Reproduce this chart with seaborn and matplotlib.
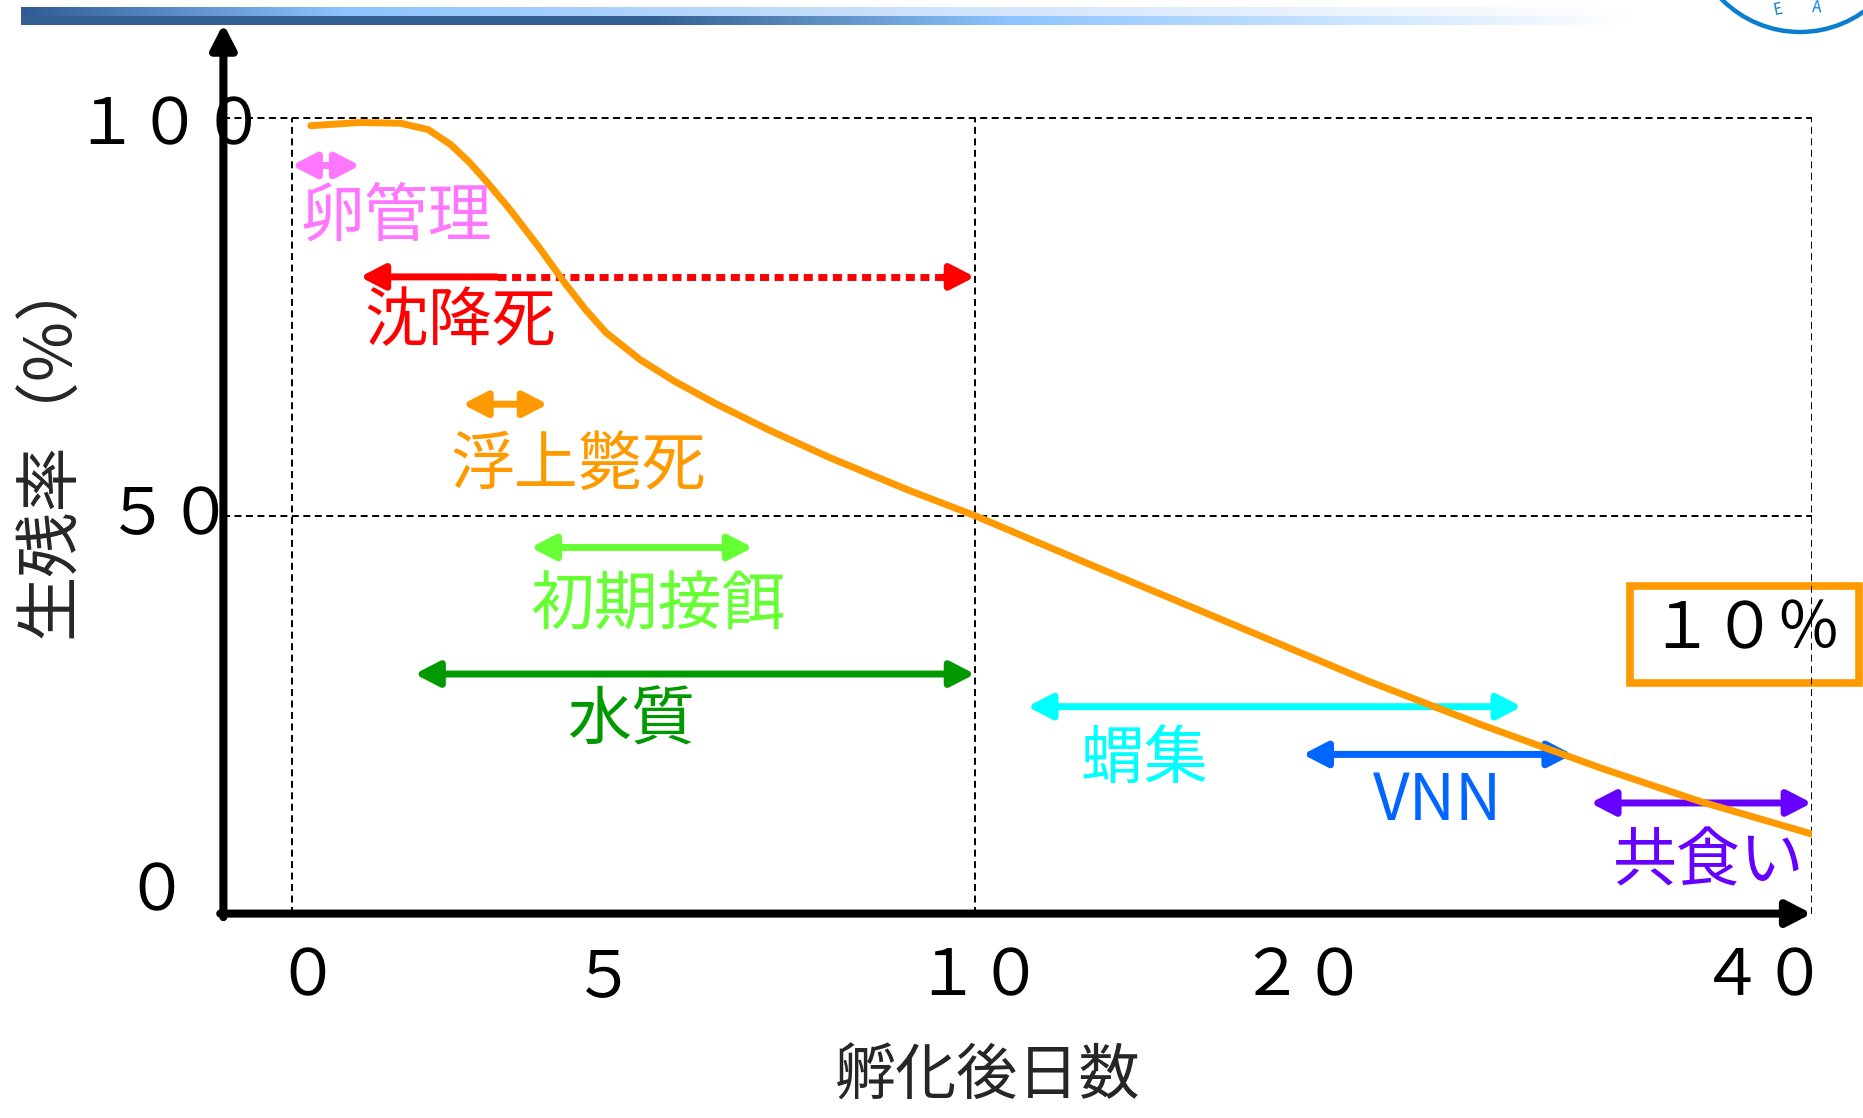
import numpy as np
import matplotlib
matplotlib.use("Agg")
import matplotlib.pyplot as plt
import seaborn as sns
from matplotlib.patches import FancyArrowPatch, Rectangle, Circle
from matplotlib.transforms import ScaledTranslation

# ---- data -------------------------------------------------------------
# survival curve: days after hatching vs survival rate (%)
days = [0.28, 1.0, 1.6, 2.0, 2.33, 2.6, 2.85, 3.2, 3.63, 4.0, 4.3, 4.6, 5.1,
        5.6, 6.2, 7.0, 7.9, 9.0, 10.0, 13.2, 16.85, 22.5, 26.95, 31.7, 35.6, 40.0]
survival = [99.0, 99.4, 99.3, 98.5, 96.6, 94.4, 92.0, 88.4, 83.6, 79.2, 75.9,
            73.0, 69.6, 66.9, 64.1, 60.7, 57.2, 53.3, 50.0, 44.4, 38.1, 29.3,
            23.8, 18.3, 14.1, 10.0]

# loss factors and the period (days) during which each one matters
stages = ["卵管理", "沈降死", "浮上斃死", "初期接餌", "水質", "蝟集", "VNN", "共食い"]
stage_start = [0.0, 1.0, 2.5, 3.5, 1.8, 11.6, 20.0, 31.3]
stage_end = [1.0, 10.0, 3.75, 6.75, 10.0, 28.6, 30.6, 40.0]
stage_level = [94.0, 80.0, 64.0, 46.0, 30.1, 26.0, 20.0, 13.9]
sinking_main_until = 3.0          # 沈降死: main period, then tailing off

stage_colors = ["#FF77FF", "#FF0000", "#FF9900", "#66FF33",
                "#009900", "#00FFFF", "#0066FF", "#6600FF"]

x_ticks = [0, 5, 10, 20, 40]
y_ticks = [0, 50, 100]

# ---- style ------------------------------------------------------------
sns.set_theme(style="white")
plt.rcParams["font.family"] = ["Noto Sans CJK JP", "DejaVu Sans"]

FW = str.maketrans("0123456789", "０１２３４５６７８９")
W, H = 1863, 1118
fig = plt.figure(figsize=(W / 100, H / 100), dpi=100)

# decoration layer in pixel coordinates
ov = fig.add_axes([0, 0, 1, 1], zorder=0)
ov.set_xlim(0, W)
ov.set_ylim(H, 0)
ov.axis("off")

# header band with gradient
cols = np.arange(21, 1627)
def band(stops):
    xs = [s[0] for s in stops]
    rgb = np.stack([np.interp(cols, xs, [s[1][i] for s in stops]) for i in range(3)], axis=-1)
    return rgb / 255.0
top = band([(21, (47, 90, 150)), (344, (140, 196, 255)), (900, (205, 225, 250)), (1627, (255, 255, 255))])
bot = band([(21, (52, 95, 146)), (653, (52, 95, 146)), (1010, (140, 196, 255)), (1627, (255, 255, 255))])
img = np.concatenate([np.repeat(top[None], 9, axis=0), np.repeat(bot[None], 9, axis=0)], axis=0)
ov.imshow(img, extent=[21, 1627, 25, 7], aspect="auto", interpolation="bilinear")

# emblem in the corner
ov.add_patch(Circle((1800, -78), 110, fill=False, ec="#0A7FD0", lw=3.2))
ov.text(1778, 10, "E", color="#0A7FD0", fontsize=11, rotation=12, ha="center", va="center")
ov.text(1817, 8, "A", color="#0A7FD0", fontsize=11, rotation=-3, ha="center", va="center")

# final survival call-out
ov.add_patch(Rectangle((1629.5, 586), 229, 97, fill=False, ec="#FF9900", lw=5.5))
ov.text(1745, 630, f"{int(round(survival[-1]))}".translate(FW) + "％",
        fontsize=46, ha="center", va="center", color="black")

# ---- main axes --------------------------------------------------------
ax = fig.add_axes([223.4 / W, 1 - 913.6 / H, 1588.4 / W, 889.8 / H], zorder=1)
ax.patch.set_alpha(0)

sns.lineplot(x=days, y=survival, ax=ax, color="#FF9900", lw=5, zorder=6)

# compressed day axis beyond 10 days
KD = np.array([-40.0, 0.0, 10.0, 20.0, 40.0, 100.0])
KU = np.array([-40.0, 0.0, 10.0, 14.8, 22.25, 22.25 + 60 * 7.45 / 20])
ax.set_xscale("function", functions=(lambda x: np.interp(x, KD, KU),
                                     lambda u: np.interp(u, KU, KD)))
ax.set_xlim(-1.0, 40)
ax.set_ylim(0, 111.8)

for s in ax.spines.values():
    s.set_visible(False)

# dashed guide lines
grid_kw = dict(color="black", lw=1.4, linestyle=(0, (3.6, 2.3)), zorder=1)
ax.hlines([50, 100], -1.0, 40, **grid_kw)
ax.vlines([0, 10, 40], 0, 100, **grid_kw)

HEAD = "head_length=14.5,head_width=7.5"

# axis arrows
for xy, start in [((0, 1), (0, -0.004)), ((1, 0), (-0.002, 0))]:
    ax.annotate("", xy=xy, xytext=start, xycoords="axes fraction",
                arrowprops=dict(arrowstyle=f"-|>,{HEAD}", mutation_scale=1, lw=5.8,
                                color="black", shrinkA=0, shrinkB=0))

# stage spans
def span(x0, x1, y, color, style="<|-|>"):
    ax.add_patch(FancyArrowPatch((x0, y), (x1, y), arrowstyle=f"{style},{HEAD}",
                                 mutation_scale=1, lw=5, color=color,
                                 shrinkA=0, shrinkB=0, zorder=3))

label_place = [(0.12, 87.5, "left"), (1.07, 74.3, "left"), (2.32, 56.3, "left"),
               (3.5, 38.6, "left"), (4.97, 24.2, "center"), (15.17, 19.3, "center"),
               (25.3, 14.1, "center"), (32.2, 6.4, "left")]

for name, x0, x1, y, c, (tx, ty, ha) in zip(stages, stage_start, stage_end, stage_level,
                                            stage_colors, label_place):
    if name == "沈降死":
        span(sinking_main_until, x0, y, c, style="-|>")
        ax.plot([sinking_main_until, x1 - 0.3], [y, y], color=c, lw=5,
                dashes=(1.3, 0.8), dash_capstyle="butt", zorder=3)
        span(x1 - 0.45, x1, y, c, style="-|>")
    else:
        span(x0, x1, y, c)
    ax.text(tx, ty, name, color=c, fontsize=46, ha=ha, va="center", zorder=4)

# ticks
ax.set_xticks(x_ticks, [str(v).translate(FW) for v in x_ticks])
ax.set_yticks(y_ticks, [str(v).translate(FW) for v in y_ticks])
ax.tick_params(axis="both", length=0, labelsize=46, labelcolor="black")
ax.tick_params(axis="x", pad=46)
ax.tick_params(axis="y", pad=0)
ax.minorticks_off()

x_shift = [16, -29, 4, 0, -48]
for lab, dx in zip(ax.get_xticklabels(), x_shift):
    lab.set_va("center")
    lab.set_transform(lab.get_transform() + ScaledTranslation(dx / 100, 0, fig.dpi_scale_trans))
y_shift = [(-67, 22), (-54, 0), (-53, -8)]
for lab, (dx, dy) in zip(ax.get_yticklabels(), y_shift):
    lab.set_ha("center")
    lab.set_va("center")
    lab.set_transform(lab.get_transform() + ScaledTranslation(dx / 100, dy / 100, fig.dpi_scale_trans))

ax.set_xlabel("孵化後日数", fontsize=44, va="center")
ax.set_ylabel("生残率（%）", fontsize=47, va="center")
ax.xaxis.set_label_coords(0.481, -0.1845)
ax.yaxis.set_label_coords(-0.1085, 0.527)

fig.savefig("out.png", dpi=100)
